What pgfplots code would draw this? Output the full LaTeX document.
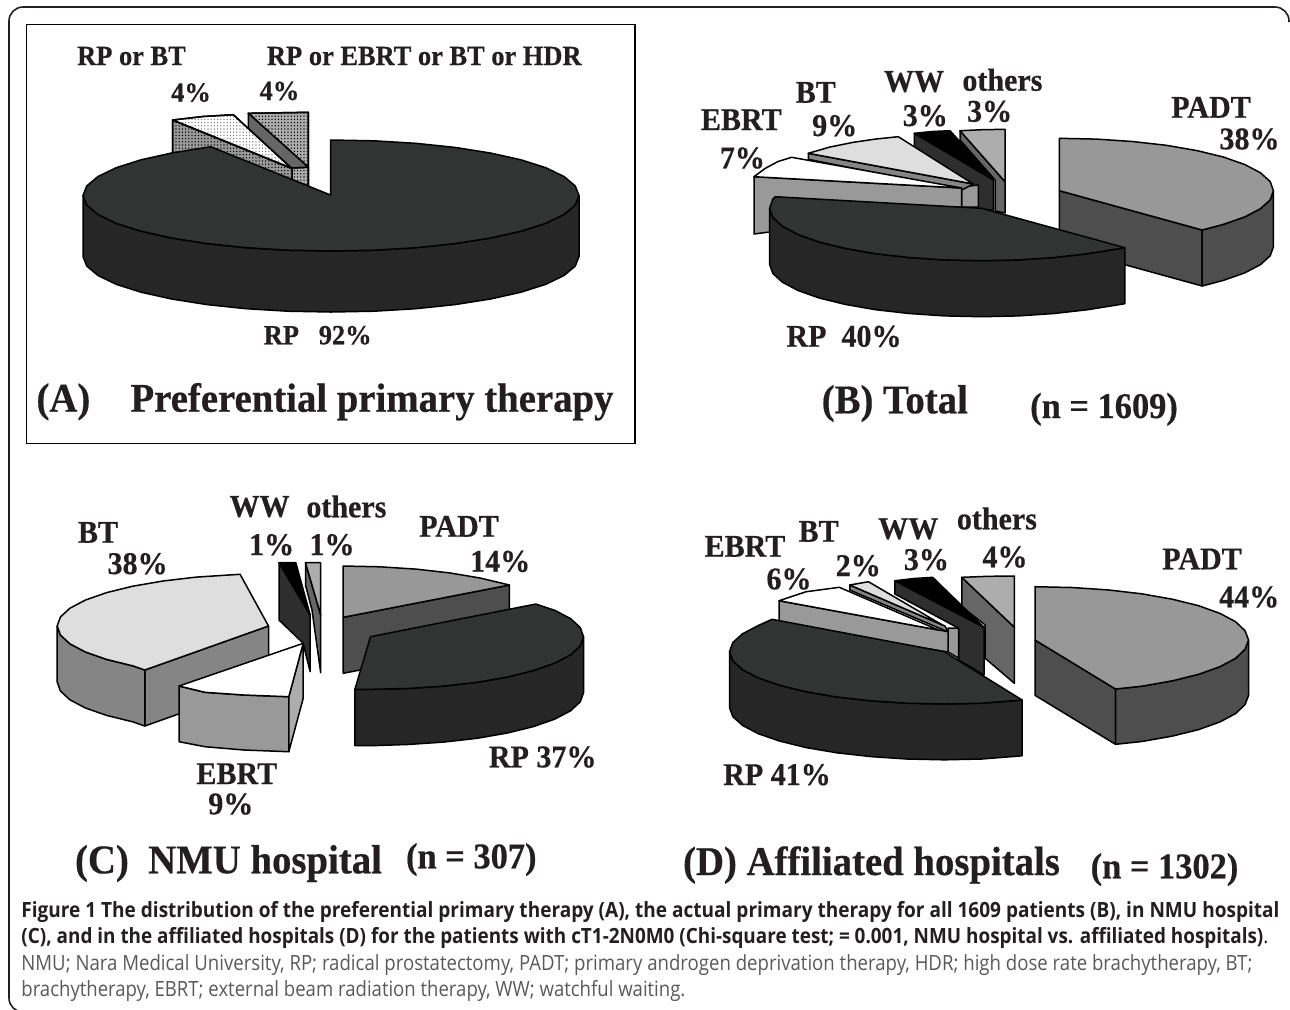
\documentclass[border=0pt]{standalone}
\usepackage{fontspec}
\usepackage{graphicx}
\usepackage{pgfplots}
\pgfplotsset{compat=1.18}
\usetikzlibrary{patterns}
\setmainfont{Liberation Serif}
\newfontfamily\serb[FakeBold=0.5,FakeStretch=0.95]{Liberation Serif}
\newfontfamily\capf{Open Sans}

\definecolor{ink}{HTML}{231F20}
\definecolor{rptop}{HTML}{323433}
\definecolor{rpside}{HTML}{262626}
\definecolor{padttop}{HTML}{989898}
\definecolor{padtside}{HTML}{4E4E4E}
\definecolor{bttop}{HTML}{DEDEDE}
\definecolor{btside}{HTML}{858585}
\definecolor{ebside}{HTML}{999999}
\definecolor{wwside}{HTML}{2E2E2E}
\definecolor{othtop}{HTML}{ADADAD}
\definecolor{othside}{HTML}{666666}

\pgfdeclarepatternformonly{fdots}{\pgfqpoint{-.3pt}{-.3pt}}{\pgfqpoint{.3pt}{.3pt}}{\pgfqpoint{1.6pt}{1.6pt}}{%
  \pgfpathcircle{\pgfqpoint{0pt}{0pt}}{.38pt}\pgfusepath{fill}}

\pgfplotsset{
  pc/.style={draw=black,line width=.75pt,line join=round,fill=#1},
  pd/.style 2 args={draw=black,line width=.75pt,line join=round,preaction={fill=#1},pattern=fdots,pattern color=#2},
}

% labels: x, baseline y, text
\newcommand{\laba}[3]{\node[anchor=base,inner sep=0pt,text=ink] at (axis cs:#1,#2) {\serb\fontsize{13.9}{16}\selectfont\bfseries #3};}
\newcommand{\labb}[3]{\node[anchor=base,inner sep=0pt,text=ink] at (axis cs:#1,#2) {\serb\fontsize{15.8}{17}\selectfont\bfseries #3};}
\newcommand{\labt}[3]{\node[anchor=base,inner sep=0pt,text=ink] at (axis cs:#1,#2) {\serb\fontsize{20.4}{25}\selectfont\bfseries #3};}
\newcommand{\labn}[3]{\node[anchor=base,inner sep=0pt,text=ink] at (axis cs:#1,#2) {\serb\fontsize{18.1}{22}\selectfont\bfseries #3};}
\newcommand{\capl}[4]{\node[anchor=base west,inner sep=0pt,text=#3] at (axis cs:21,#1) {\capf\fontsize{10.5}{13}\selectfont\resizebox{#2}{\height}{#4}};}

\begin{document}
\begin{tikzpicture}
\useasboundingbox (0,0) rectangle (645pt,504.5pt);
\begin{axis}[
    at={(0,0)},anchor=south west,
    width=645pt,height=504.5pt,scale only axis,
    xmin=0,xmax=1290,ymin=0,ymax=1009,y dir=reverse,
    axis lines=none,clip=false,
]
% outer frame and box of panel A
\draw[color=ink,line width=.8pt,rounded corners=7pt] (axis cs:22,1012) -- (axis cs:9,1012) -- (axis cs:9,7) -- (axis cs:1289,7) -- (axis cs:1289,22);
\draw[color=black,line width=.9pt] (axis cs:26.5,24.5) rectangle (axis cs:635,443.5);

%%% panel A
\addplot[pd={othtop}{black}] coordinates {(248.3,113.3)(308.3,112.3)(308.3,167.3)} --cycle;
\addplot[pc=othside] coordinates {(248.3,113.3)(308.3,167.3)(308.3,186)(248.3,130)} --cycle;
\addplot[pd={othtop}{black}] coordinates {(292,168)(308.3,167.3)(308.3,186)(292,180)} --cycle;
\addplot[pd={ebside}{black}] coordinates {(172.7,120)(292,168.5)(292,190)(172.7,155)} --cycle;
\addplot[pd={white}{gray}] coordinates {(172.7,120)(203,116.5)(233.3,114.7)(291.7,168.3)} --cycle;
\addplot[pc=rpside] coordinates {(83,195.5)(86.8,205.1)(98,214.5)(116.2,223.3)(141,231.2)(171.6,238)(207,243.6)(246.2,247.7)(287.9,250.2)(331,251)(374.1,250.2)(415.8,247.7)(455,243.6)(490.4,238)(521,231.2)(545.8,223.3)(564,214.5)(575.2,205.1)(579,195.5)(579,256.5)(575.2,266.1)(564,275.5)(545.8,284.3)(521,292.2)(490.4,299)(455,304.6)(415.8,308.7)(374.1,311.2)(331,312)(287.9,311.2)(246.2,308.7)(207,304.6)(171.6,299)(141,292.2)(116.2,284.3)(98,275.5)(86.8,266.1)(83,256.5)} --cycle;
\addplot[pc=rptop] coordinates {(330.5,195)(330.5,140)(374.1,140.8)(415.8,143.3)(455,147.4)(490.4,153)(521,159.8)(545.8,167.7)(564,176.5)(575.2,185.9)(579,195.5)(575.2,205.1)(564,214.5)(545.8,223.3)(521,231.2)(490.4,238)(455,243.6)(415.8,247.7)(374.1,250.2)(331,251)(287.9,250.2)(246.2,247.7)(207,243.6)(171.6,238)(141,231.2)(116.2,223.3)(98,214.5)(86.8,205.1)(83,195.5)(86.8,185.9)(98,176.5)(116.2,167.7)(141,159.8)(171.6,153)(210.7,146.7)} --cycle;

\laba{131.5}{65}{RP or BT}
\laba{191}{101.7}{4\%}
\laba{424.3}{65}{RP or EBRT or BT or HDR}
\laba{279.5}{100}{4\%}
\laba{317.7}{344.3}{RP\ \ \ 92\%}
\labt{63.4}{411.7}{(A)}
\labt{372}{411.7}{Preferential primary therapy}

%%% panel B
\addplot[pc=othside] coordinates {(960,130.7)(1005,181.7)(1005,213)(995,211)(995,180)(960,140)} --cycle;
\addplot[pc=othtop] coordinates {(960,130.7)(982,129.7)(1005,129.3)(1005,181.7)} --cycle;
\addplot[pc=wwside] coordinates {(914.3,133.3)(993.3,180)(993.3,210)(978,210)(914.3,147)} --cycle;
\addplot[pc=black] coordinates {(914.3,133.3)(932,131.5)(950,130.7)(993.3,178.3)} --cycle;
\addplot[pc=ebside] coordinates {(961.7,187)(978.3,185)(978.3,207)(961.7,207)} --cycle;
\addplot[pc=btside] coordinates {(808.3,153.3)(973.3,184)(961.7,190)(808.3,159.3)} --cycle;
\addplot[pc=bttop] coordinates {(808.3,153.3)(830,147)(853.3,142.3)(876,139)(898.3,136.7)(973.3,184)} --cycle;
\addplot[pc=ebside] coordinates {(754,176.7)(961.7,188)(961.7,207)(754,234)} --cycle;
\addplot[pc=white] coordinates {(754,176.7)(765,168.5)(778,161.5)(791.7,157.3)(961.7,188)} --cycle;
\addplot[pc=padtside] coordinates {(1059.4,190.7)(1202.2,230)(1202.2,286)(1059.4,246.7)} --cycle;
\addplot[pc=padtside] coordinates {(1202.2,230)(1223.3,224.4)(1244.7,216.9)(1260.5,208.6)(1270.2,199.8)(1273.4,190.7)(1273.4,246.7)(1270.2,255.8)(1260.5,264.6)(1244.7,272.9)(1223.3,280.4)(1202.2,286)} --cycle;
\addplot[pc=padttop] coordinates {(1059.4,190.7)(1059.4,138.3)(1096.6,139.1)(1132.6,141.5)(1166.4,145.3)(1197,150.6)(1223.3,157)(1244.7,164.5)(1260.5,172.8)(1270.2,181.6)(1273.4,190.7)(1270.2,199.8)(1260.5,208.6)(1244.7,216.9)(1223.3,224.4)(1202.2,230)} --cycle;
\addplot[pc=rpside] coordinates {(1124.8,247.7)(1087.6,253.7)(1054.1,257.5)(1018.4,259.9)(981.6,260.7)(944.8,259.9)(909.1,257.5)(875.6,253.7)(845.3,248.4)(819.2,242)(798,234.5)(782.4,226.2)(772.8,217.4)(769.6,208.3)(769.6,264.3)(772.8,273.4)(782.4,282.2)(798,290.5)(819.2,298)(845.3,304.4)(875.6,309.7)(909.1,313.5)(944.8,315.9)(981.6,316.7)(1018.4,315.9)(1054.1,313.5)(1087.6,309.7)(1124.8,303.7)} --cycle;
\addplot[pc=rptop] coordinates {(981.6,208.3)(1124.8,247.7)(1087.6,253.7)(1054.1,257.5)(1018.4,259.9)(981.6,260.7)(944.8,259.9)(909.1,257.5)(875.6,253.7)(845.3,248.4)(819.2,242)(798,234.5)(782.4,226.2)(772.8,217.4)(769.6,208.3)(772.8,199.2)(775.3,196.7)} --cycle;

\labb{914}{91.7}{WW}
\labb{1002.4}{90.7}{others}
\labb{925.3}{126}{3\%}
\labb{989.6}{121.7}{3\%}
\labb{815.8}{102.7}{BT}
\labb{834.7}{136}{9\%}
\labb{741.3}{130}{EBRT}
\labb{742.4}{168.3}{7\%}
\labb{1211}{117.7}{PADT}
\labb{1249.5}{149.3}{38\%}
\labb{844}{346.7}{RP\ \ 40\%}
\labt{894.8}{413.3}{(B) Total}
\labn{1104}{418}{(n = 1609)}

%%% panel C
\addplot[pc=btside] coordinates {(144.8,670)(268.5,626)(268.5,682)(144.8,726)} --cycle;
\addplot[pc=btside] coordinates {(57.2,626)(60.4,635)(69.9,643.8)(85.5,652)(106.6,659.4)(132.7,665.8)(144.8,670)(144.8,726)(132.7,721.8)(106.6,715.4)(85.5,708)(69.9,699.8)(60.4,691)(57.2,682)} --cycle;
\addplot[pc=bttop] coordinates {(268.5,626)(240.1,574.3)(231.8,574.8)(196.2,577.1)(162.9,581)(132.7,586.2)(106.6,592.6)(85.5,600)(69.9,608.2)(60.4,617)(57.2,626)(60.4,635)(69.9,643.8)(85.5,652)(106.6,659.4)(132.7,665.8)(144.8,670)} --cycle;
\addplot[pc=othside] coordinates {(305.5,562.7)(320.7,615)(320.7,672.7)(312,610)(305.5,585)} --cycle;
\addplot[pc=othtop] coordinates {(305.5,562.7)(320.7,562.7)(320.7,615)} --cycle;
\addplot[pc=wwside] coordinates {(279,562.7)(310.2,615)(310.2,671.7)(303,643)(279,620)} --cycle;
\addplot[pc=black] coordinates {(279,562.7)(295.8,562.7)(310.2,615)} --cycle;
\addplot[pc=ebside] coordinates {(179,686)(205,692.3)(244,695)(288.8,696.7)(288.8,751.7)(244,750)(205,746.7)(179,741.7)} --cycle;
\addplot[pc=othtop] coordinates {(288.8,696.7)(303.2,643.3)(303.2,698.3)(288.8,751.7)} --cycle;
\addplot[pc=white] coordinates {(179,686)(205,692.3)(244,695)(288.8,696.7)(303.2,643.3)} --cycle;
\addplot[pc=padtside] coordinates {(343.2,617.3)(509.4,585)(509.4,641)(343.2,673.3)} --cycle;
\addplot[pc=padttop] coordinates {(343.2,617.3)(343.2,566)(380.2,566.8)(416.1,569.1)(449.7,572.9)(480.1,578)(509.4,585)} --cycle;
\addplot[pc=rpside] coordinates {(583.5,636.7)(580.3,645.8)(570.7,654.7)(555,663)(533.7,670.5)(507.4,677)(477,682.3)(443.4,686.1)(407.5,688.5)(370.5,689.3)(354.9,689.3)(354.9,745.7)(370.5,745.7)(407.5,744.5)(443.4,742.1)(477,738.3)(507.4,733)(533.7,726.5)(555,719)(570.7,710.7)(580.3,701.8)(583.5,692.7)} --cycle;
\addplot[pc=rptop] coordinates {(370.5,636.7)(535.8,604)(555,610.4)(570.7,618.7)(580.3,627.6)(583.5,636.7)(580.3,645.8)(570.7,654.7)(555,663)(533.7,670.5)(507.4,677)(477,682.3)(443.4,686.1)(407.5,688.5)(370.5,689.3)(354.9,689.3)} --cycle;

\labb{259.6}{516.7}{WW}
\labb{346.4}{517.3}{others}
\labb{271.6}{555}{1\%}
\labb{332}{555}{1\%}
\labb{459}{536.7}{PADT}
\labb{500.2}{571.7}{14\%}
\labb{98}{542.7}{BT}
\labb{137.6}{574}{38\%}
\labb{236.8}{784}{EBRT}
\labb{230.8}{814.3}{9\%}
\labb{542.7}{767.3}{RP 37\%}
\labt{228.5}{873.3}{(C)\ \ NMU hospital}
\labn{471.3}{868.3}{(n = 307)}

%%% panel D
\addplot[pc=othside] coordinates {(961.8,577.3)(1014.4,627.3)(1014.4,683.3)(985.2,658.3)(985.2,625)(961.8,606.7)} --cycle;
\addplot[pc=othtop] coordinates {(961.8,577.3)(988,576.3)(1014.4,576)(1014.4,627.3)} --cycle;
\addplot[pc=wwside] coordinates {(894.9,580.7)(984,627.3)(984,675)(958.7,660)(958.7,628.3)(894.9,594)} --cycle;
\addplot[pc=black] coordinates {(894.9,580.7)(914,578.5)(932.7,577.3)(984,627.3)} --cycle;
\addplot[pc=ebside] coordinates {(948.2,628)(958.7,628.3)(958.7,658.3)(948.2,652)} --cycle;
\addplot[pc=btside] coordinates {(849.8,585)(945,626)(948.2,632)(849.8,590)} --cycle;
\addplot[pc=bttop] coordinates {(849.8,585)(868.4,581.7)(942.4,625)} --cycle;
\addplot[pc=ebside] coordinates {(779,600.7)(948.2,631.7)(948.2,652)(779,625)} --cycle;
\addplot[pc=white] coordinates {(779,600.7)(806.2,591.7)(839.3,587.3)(938.5,630)} --cycle;
\addplot[pc=rpside] coordinates {(1022.1,700)(981.6,703.2)(944.3,704)(907,703.2)(870.8,700.8)(836.9,697)(806.2,691.8)(779.8,685.3)(758.3,677.9)(742.5,669.6)(732.8,660.8)(729.5,651.7)(729.5,707.5)(732.8,716.6)(742.5,725.4)(758.3,733.7)(779.8,741.1)(806.2,747.6)(836.9,752.8)(870.8,756.6)(907,759)(944.3,759.8)(981.6,759)(1022.1,755.8)} --cycle;
\addplot[pc=rptop] coordinates {(944.3,651.7)(1022.1,700)(981.6,703.2)(944.3,704)(907,703.2)(870.8,700.8)(836.9,697)(806.2,691.8)(779.8,685.3)(758.3,677.9)(742.5,669.6)(732.8,660.8)(729.5,651.7)(732.8,642.6)(742.5,633.8)(758.3,625.5)(772,619.3)} --cycle;
\addplot[pc=padtside] coordinates {(1035,640)(1115.5,689)(1115.5,744.3)(1035,695.3)} --cycle;
\addplot[pc=padtside] coordinates {(1115.5,689)(1141.8,686.2)(1172.3,680.8)(1198.6,674.3)(1220,666.6)(1235.7,658.2)(1245,649.3)(1248.6,640)(1248.6,695.3)(1245,704.6)(1235.7,713.5)(1220,721.9)(1198.6,729.6)(1172.3,736.1)(1141.8,741.5)(1115.5,744.3)} --cycle;
\addplot[pc=padttop] coordinates {(1035,640)(1035,586.7)(1072.1,587.5)(1108.1,589.9)(1141.8,593.8)(1172.3,599.2)(1198.6,605.7)(1220,613.4)(1235.7,621.8)(1245,630.7)(1248.6,640)(1245,649.3)(1235.7,658.2)(1220,666.6)(1198.6,674.3)(1172.3,680.8)(1141.8,686.2)(1115.5,689)} --cycle;

\labb{745}{556.7}{EBRT}
\labb{818.6}{541.7}{BT}
\labb{908.3}{539}{WW}
\labb{996.9}{529.3}{others}
\labb{789}{589.3}{6\%}
\labb{858.3}{576}{2\%}
\labb{926.4}{570}{3\%}
\labb{1005}{567.3}{4\%}
\labb{1202}{569.3}{PADT}
\labb{1249.2}{607.3}{44\%}
\labb{777}{785}{RP 41\%}
\labt{871.5}{875}{(D) Affiliated hospitals}
\labn{1164.5}{878.3}{(n = 1302)}

%%% caption
\capl{917}{629pt}{ink}{\bfseries Figure 1 The distribution of the preferential primary therapy (A), the actual primary therapy for all 1609 patients (B), in NMU hospital}
\capl{943}{623.5pt}{ink}{\bfseries (C), and in the affiliated hospitals (D) for the patients with cT1-2N0M0 (Chi-square test; = 0.001, NMU hospital vs. affiliated hospitals)\mdseries.}
\capl{970}{615.5pt}{black!65}{NMU; Nara Medical University, RP; radical prostatectomy, PADT; primary androgen deprivation therapy, HDR; high dose rate brachytherapy, BT;}
\capl{996}{332pt}{black!65}{brachytherapy, EBRT; external beam radiation therapy, WW; watchful waiting.}
\end{axis}
\end{tikzpicture}
\end{document}
